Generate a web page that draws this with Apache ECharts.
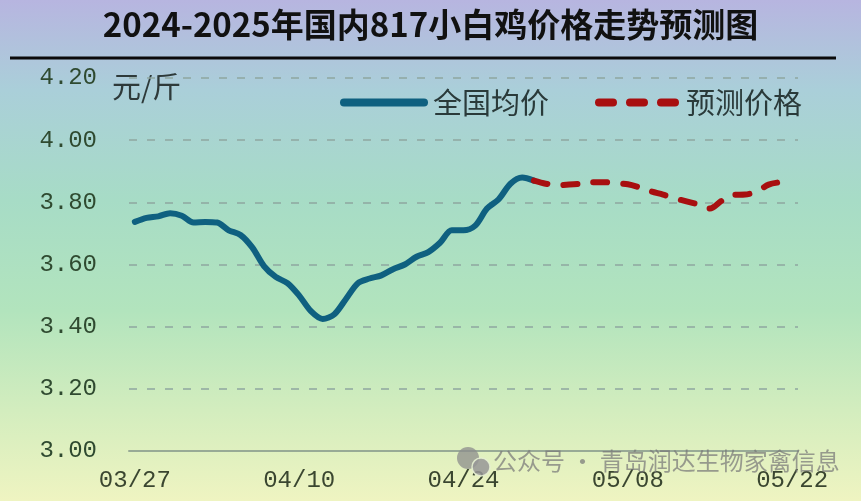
<!DOCTYPE html>
<html>
<head>
<meta charset="utf-8">
<script src="https://cdn.jsdelivr.net/npm/echarts@6/dist/echarts.min.js"></script>
<style>
html,body{margin:0;padding:0;}
#chart{width:861px;height:501px;}
</style>
</head>
<body>
<div id="chart"></div>
<script>
var titleText = '2024-2025年国内817小白鸡价格走势预测图';
var unitText = '元/斤';
var seriesNames = ['全国均价', '预测价格'];
var watermarkText = '公众号 · 青岛润达生物家禽信息';

var dates = ['03/27','03/28','03/29','03/30','03/31',
  '04/01','04/02','04/03','04/04','04/05','04/06','04/07','04/08','04/09','04/10',
  '04/11','04/12','04/13','04/14','04/15','04/16','04/17','04/18','04/19','04/20',
  '04/21','04/22','04/23','04/24','04/25','04/26','04/27','04/28','04/29','04/30',
  '05/01','05/02','05/03','05/04','05/05','05/06','05/07','05/08','05/09','05/10',
  '05/11','05/12','05/13','05/14','05/15','05/16','05/17','05/18','05/19','05/20',
  '05/21','05/22'];

// 全国均价: 03/27 .. 04/30
var actualPrice = [3.737,3.75,3.755,3.765,3.757,3.735,3.737,3.735,3.71,3.695,
  3.655,3.595,3.56,3.54,3.50,3.45,3.425,3.44,3.49,3.54,
  3.555,3.565,3.585,3.60,3.625,3.64,3.67,3.71,3.71,3.725,
  3.78,3.81,3.86,3.88,3.87];

// 预测价格: 04/30 .. 05/22
var forecastPrice = [3.87,3.86,3.855,3.857,3.86,3.865,3.865,3.862,3.858,3.848,
  3.835,3.825,3.813,3.803,3.793,3.78,3.805,3.824,3.825,3.835,
  3.857,3.865,3.867];

var yMin = 3.0, yMax = 4.2, yStep = 0.2;

var solidData = dates.map(function (d, i) { return i < actualPrice.length ? actualPrice[i] : null; });
var forecastStart = actualPrice.length - 1;
var dashData = dates.map(function (d, i) { return i >= forecastStart ? forecastPrice[i - forecastStart] : null; });

var solidIcon = 'path://M4,0 H84 A4,4 0 0 1 84,8 H4 A4,4 0 0 1 4,0 Z';
var dashIcon = 'path://M4,0 H18 A4,4 0 0 1 18,8 H4 A4,4 0 0 1 4,0 Z M35,0 H49 A4,4 0 0 1 49,8 H35 A4,4 0 0 1 35,0 Z M66,0 H80 A4,4 0 0 1 80,8 H66 A4,4 0 0 1 66,0 Z';

var chart = echarts.init(document.getElementById('chart'), null, {renderer: 'canvas'});
var option = {
  animation: false,
  title: {
    text: titleText,
    left: 'center',
    top: 3,
    textStyle: {fontFamily: 'Noto Sans CJK SC', fontSize: 33, fontWeight: 'bold', color: '#111111'}
  },
  graphic: [
    {
      type: 'rect', z: -100, silent: true,
      shape: {x: 0, y: 0, width: 861, height: 501},
      style: {
        fill: new echarts.graphic.LinearGradient(0, 0, 0, 1, [
          {offset: 0, color: '#b7b5e0'},
          {offset: 0.18, color: '#aacfd9'},
          {offset: 0.4, color: '#a7dcc6'},
          {offset: 0.62, color: '#b2e4bd'},
          {offset: 0.82, color: '#d3edbe'},
          {offset: 1, color: '#eff4c1'}
        ])
      }
    },
    {
      type: 'line', silent: true,
      shape: {x1: 10, y1: 58, x2: 836, y2: 58},
      style: {stroke: '#0a0a0a', lineWidth: 3}
    },
    {
      type: 'text', silent: true, left: 112, top: 72,
      style: {text: unitText, font: '29px "Noto Sans CJK SC"', fill: '#2e3a3a'}
    },
    {
      type: 'circle', silent: true, z: 50,
      shape: {cx: 468, cy: 458, r: 11},
      style: {fill: 'rgba(140,140,140,0.75)'}
    },
    {
      type: 'circle', silent: true, z: 51,
      shape: {cx: 481, cy: 467, r: 9},
      style: {fill: 'rgba(150,150,150,0.85)', stroke: 'rgba(230,240,210,0.9)', lineWidth: 1.5}
    },
    {
      type: 'text', silent: true, z: 50, left: 493, top: 449,
      style: {text: watermarkText, font: '24px "Noto Sans CJK SC"', fill: 'rgba(120,120,120,0.72)'}
    }
  ],
  legend: {
    left: 335,
    top: 83,
    itemWidth: 88,
    itemHeight: 8,
    itemGap: 46,
    textStyle: {fontFamily: 'Noto Sans CJK SC', fontSize: 29, color: '#2a3a3a'},
    data: [
      {name: seriesNames[0], icon: solidIcon},
      {name: seriesNames[1], icon: dashIcon}
    ]
  },
  grid: {left: 129, right: 63, top: 78, bottom: 50},
  xAxis: {
    type: 'category',
    data: dates,
    boundaryGap: true,
    axisLine: {show: true, lineStyle: {color: '#98aa96', width: 2}},
    axisTick: {show: false},
    axisLabel: {
      interval: 13,
      margin: 18,
      fontFamily: 'Liberation Mono',
      fontSize: 24,
      color: '#3a4630'
    },
    splitLine: {show: false}
  },
  yAxis: {
    type: 'value',
    min: yMin,
    max: yMax,
    interval: yStep,
    axisLine: {show: false},
    axisTick: {show: false},
    axisLabel: {
      margin: 32,
      fontFamily: 'Liberation Mono',
      fontSize: 24,
      color: '#2f4a30',
      formatter: function (v) { return v.toFixed(2); }
    },
    splitLine: {show: true, lineStyle: {color: '#8fa6a0', width: 1.5, type: [8, 10]}}
  },
  series: [
    {
      name: seriesNames[0],
      type: 'line',
      data: solidData,
      smooth: 0.3,
      symbol: 'none',
      connectNulls: false,
      z: 3,
      lineStyle: {color: '#0f6080', width: 6, cap: 'round', join: 'round'},
      itemStyle: {color: '#0f6080'}
    },
    {
      name: seriesNames[1],
      type: 'line',
      data: dashData,
      smooth: 0.3,
      symbol: 'none',
      connectNulls: false,
      z: 4,
      lineStyle: {color: '#a80f10', width: 6, type: [14, 16], cap: 'round', join: 'round'},
      itemStyle: {color: '#a80f10'}
    }
  ]
};
chart.setOption(option);
</script>
</body>
</html>
